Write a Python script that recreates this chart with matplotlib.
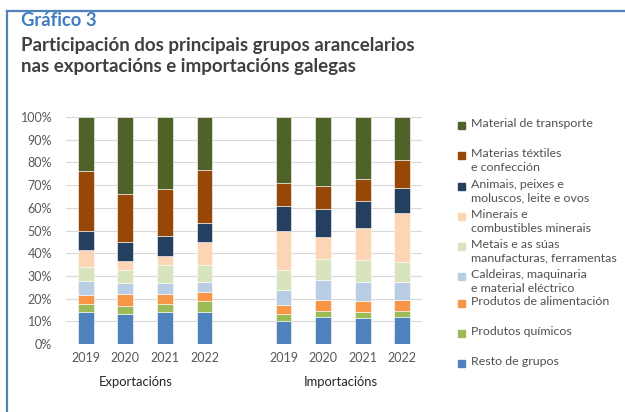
import matplotlib
matplotlib.use("Agg")
import matplotlib.pyplot as plt
import matplotlib.transforms as mtransforms
from matplotlib.lines import Line2D
from matplotlib.patches import Rectangle
import numpy as np

plt.rcParams['font.family'] = ['Lato', 'DejaVu Sans']

years = ["2019", "2020", "2021", "2022"]
groups = ["Exportacións", "Importacións"]

# legend order (top to bottom); stacking is bottom to top, so reversed
categories = [
    "Material de transporte",
    "Materias téxtiles\ne confección",
    "Animais, peixes e\nmoluscos, leite e ovos",
    "Minerais e\ncombustibles minerais",
    "Metais e as súas\nmanufacturas, ferramentas",
    "Caldeiras, maquinaria\ne material eléctrico",
    "Produtos de alimentación",
    "Produtos químicos",
    "Resto de grupos",
]
colors = ["#4F6228", "#974806", "#243F60", "#FCD5B5", "#D7E4BD",
          "#B9CDE5", "#F79646", "#9BBB59", "#4F81BD"]

# shares in %, one list per category (exports 2019-2022, imports 2019-2022)
transporte   = [23.8, 34.0, 31.5, 23.5, 29.0, 30.4, 27.2, 19.1]
textiles     = [26.2, 20.9, 21.0, 23.1, 10.4, 10.0,  9.9, 12.2]
animais      = [ 8.8,  8.5,  8.7,  8.4, 11.0, 12.4, 11.7, 10.9]
minerais     = [ 7.1,  4.1,  4.1, 10.1, 17.2,  9.6, 14.1, 21.6]
metais       = [ 6.2,  5.7,  7.9,  7.4,  8.4,  9.2,  9.9,  8.7]
caldeiras    = [ 6.1,  4.6,  4.6,  4.6,  6.9,  8.8,  8.1,  7.9]
alimentacion = [ 4.3,  5.6,  4.7,  4.1,  4.0,  5.2,  4.8,  5.2]
quimicos     = [ 3.5,  3.5,  3.5,  4.5,  3.1,  2.6,  3.0,  2.6]
resto        = [14.0, 13.1, 14.0, 14.3, 10.0, 11.8, 11.3, 11.8]

series = [transporte, textiles, animais, minerais, metais,
          caldeiras, alimentacion, quimicos, resto]

fig = plt.figure(figsize=(6.25, 4.12), dpi=100)
W, H = 625, 412

# frame lines
fig.add_artist(Line2D([7 / W, 1], [1 - 10.5 / H, 1 - 10.5 / H], color="#4F81BD", lw=1.6))
fig.add_artist(Line2D([7 / W, 7 / W], [0, 1 - 10.5 / H], color="#4F81BD", lw=1.6))

fig.text(21 / W, 1 - 20 / H, "Gráfico 3", color="#3F7CC0", fontsize=13.2,
         fontweight="bold", va="center", ha="left")
fig.text(21 / W, 1 - 45.5 / H, "Participación dos principais grupos arancelarios",
         color="#404040", fontsize=13.5, fontweight="bold", va="center", ha="left")
fig.text(21 / W, 1 - 66.5 / H, "nas exportacións e importacións galegas",
         color="#404040", fontsize=13.5, fontweight="bold", va="center", ha="left")

ax = fig.add_axes([66 / W, 1 - 344 / H, (422 - 66) / W, (344 - 117) / H])
x = np.array([0, 1, 2, 3, 5, 6, 7, 8])
bottom = np.zeros(len(x))
for vals, col in zip(series[::-1], colors[::-1]):
    ax.bar(x, vals, width=0.4, bottom=bottom, color=col, edgecolor="white", linewidth=0.4, zorder=3)
    bottom += np.array(vals)

ax.set_xlim(-0.5, 8.5)
ax.set_ylim(0, 100)
ax.set_yticks(np.arange(0, 101, 10))
ax.set_yticklabels([f"{v}%" for v in range(0, 101, 10)])
ax.set_xticks(x)
ax.set_xticklabels(years * 2)
ax.tick_params(length=0, labelsize=9, labelcolor="#595959")
ax.tick_params(axis="y", pad=10)
ax.tick_params(axis="x", pad=6)
ax.grid(axis="y", color="#D9D9D9", lw=0.8, zorder=0)
for s in ax.spines.values():
    s.set_visible(False)

trans = mtransforms.blended_transform_factory(ax.transData, fig.transFigure)
ax.text(1.25, 1 - 382 / H, groups[0], transform=trans, ha="center", va="center",
        fontsize=9.4, color="#262626")
ax.text(6.46, 1 - 382 / H, groups[1], transform=trans, ha="center", va="center",
        fontsize=9.4, color="#262626")

# legend
leg_y = [125, 155, 186, 216, 246, 276, 303, 333, 363]
for lab, col, yy in zip(categories, colors, leg_y):
    fig.add_artist(Rectangle((458 / W, 1 - (yy + 3.5) / H), 6.5 / W, 6.5 / H,
                             color=col, transform=fig.transFigure))
    fig.text(471 / W, 1 - (yy - 7) / H, lab, fontsize=8.9, color="#505050",
             va="top", ha="left", linespacing=1.3)

fig.savefig("out.png", dpi=100)
